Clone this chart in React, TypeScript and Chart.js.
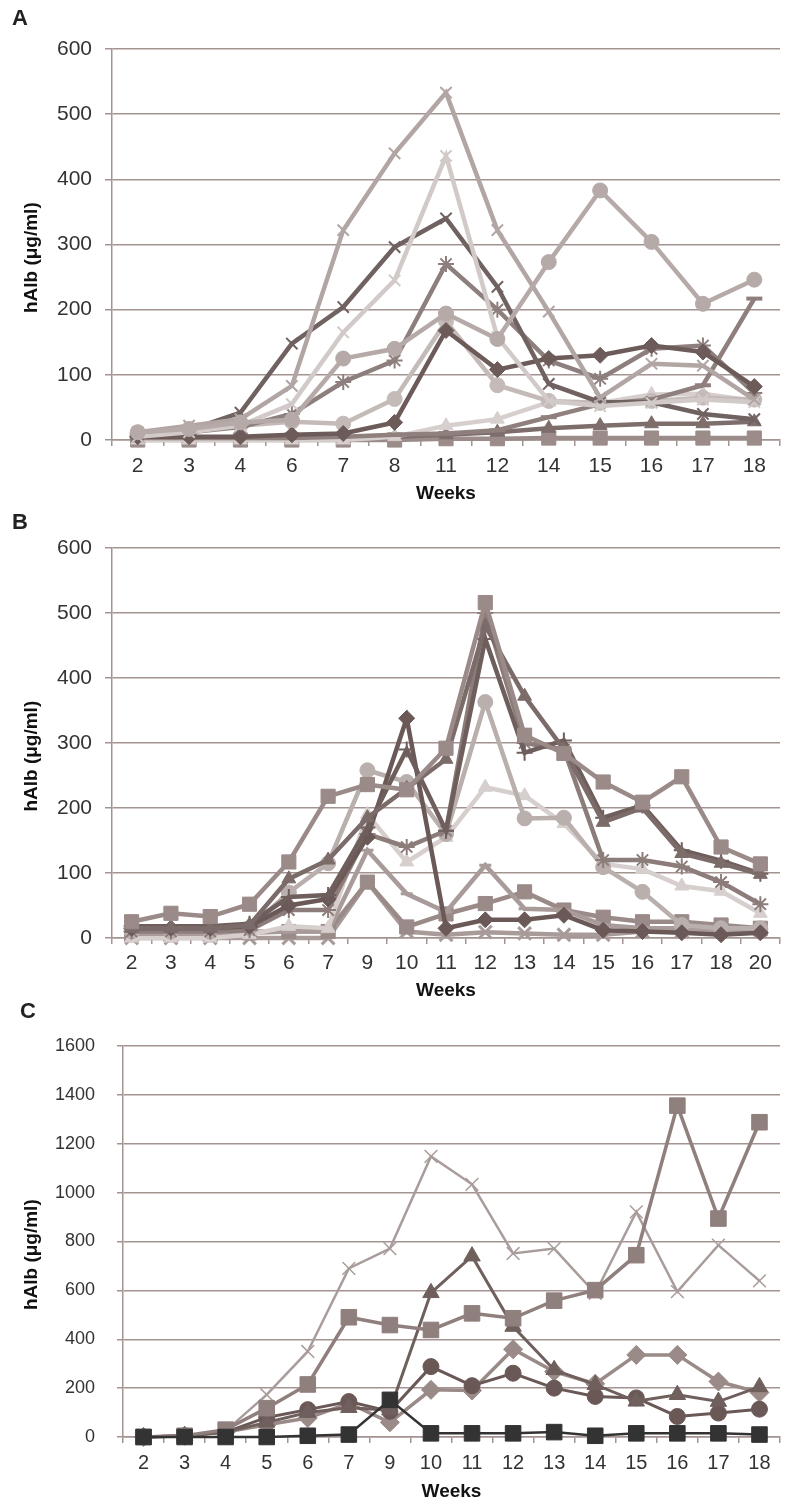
import React, { useEffect, useRef } from 'react';
import { Chart, registerables } from 'chart.js';

Chart.register(...registerables);

// ---------- Panel A ----------
const weeksA = ['2', '3', '4', '6', '7', '8', '11', '12', '14', '15', '16', '17', '18'];
const aS1 = [12, 22, 32, 83, 322, 440, 533, 322, 197, 65, 117, 114, 62];
const aS2 = [5, 12, 22, 55, 165, 245, 436, 158, 60, 52, 57, 62, 58];
const aS3 = [5, 15, 42, 148, 204, 296, 340, 235, 86, 58, 58, 40, 32];
const aS4 = [8, 12, 20, 40, 89, 122, 270, 200, 122, 94, 140, 145, 72];
const aS5 = [12, 17, 27, 31, 125, 140, 194, 155, 273, 383, 304, 209, 246];
const aS6 = [10, 15, 22, 28, 25, 63, 182, 84, 60, 57, 60, 65, 62];
const aS7 = [5, 5, 5, 8, 10, 27, 168, 108, 125, 130, 145, 135, 82];
const aS8 = [0, 0, 0, 0, 0, 5, 22, 32, 58, 57, 70, 71, 60];
const aS9 = [3, 3, 3, 3, 3, 5, 8, 12, 18, 22, 25, 25, 28];
const aS10 = [0, 0, 0, 0, 0, 0, 2, 2, 3, 3, 3, 3, 3];
const aS11 = [3, 3, 3, 3, 5, 8, 10, 15, 35, 55, 62, 84, 217];

// ---------- Panel B ----------
const weeksB = ['2', '3', '4', '5', '6', '7', '9', '10', '11', '12', '13', '14', '15', '16', '17', '18', '20'];
const bS1 = [25, 38, 33, 52, 117, 218, 236, 228, 292, 516, 312, 284, 240, 209, 248, 140, 114];
const bS2 = [15, 15, 15, 18, 50, 60, 155, 338, 15, 28, 28, 35, 12, 10, 8, 5, 8];
const bS3 = [15, 15, 15, 20, 91, 120, 185, 230, 275, 480, 372, 290, 178, 200, 130, 115, 98];
const bS4 = [18, 18, 18, 22, 63, 66, 170, 290, 165, 460, 285, 304, 185, 204, 135, 119, 99];
const bS5 = [10, 10, 10, 15, 70, 115, 258, 240, 160, 363, 184, 185, 109, 71, 20, 15, 15];
const bS6 = [0, 0, 0, 5, 18, 15, 190, 117, 155, 232, 219, 176, 114, 106, 80, 72, 38];
const bS7 = [10, 10, 10, 12, 43, 43, 160, 140, 165, 500, 300, 290, 120, 120, 110, 86, 52];
const bS8 = [8, 8, 8, 10, 10, 10, 135, 68, 40, 112, 45, 43, 20, 15, 15, 10, 10];
const bS9 = [5, 5, 5, 8, 10, 10, 86, 17, 37, 53, 71, 43, 32, 25, 25, 20, 15];
const bS10 = [0, 0, 0, 0, 0, 0, 86, 10, 5, 9, 7, 5, 5, 10, 10, 10, 12];

// ---------- Panel C ----------
const weeksC = ['2', '3', '4', '5', '6', '7', '9', '10', '11', '12', '13', '14', '15', '16', '17', '18'];
const cS1 = [0, 5, 25, 173, 350, 690, 771, 1148, 1034, 751, 771, 588, 921, 595, 785, 639];
const cS2 = [0, 5, 30, 118, 215, 490, 458, 438, 506, 486, 558, 601, 744, 1356, 894, 1288];
const cS3 = [0, 5, 20, 60, 100, 120, 110, 590, 740, 452, 275, 214, 146, 173, 145, 205];
const cS4 = [0, 5, 20, 80, 112, 145, 105, 288, 210, 261, 200, 166, 160, 84, 98, 114];
const cS5 = [0, 5, 20, 50, 78, 138, 60, 193, 190, 359, 268, 218, 336, 336, 227, 182];
const cS6 = [0, 0, 0, 0, 5, 10, 152, 15, 15, 15, 20, 5, 15, 15, 15, 10];

const yTicksA = { max: 600, step: 100 };
const yTicksC = { max: 1600, step: 200 };

const FONT = "'Liberation Sans', Arial, Helvetica, sans-serif";
const GRID = '#a39492';
const TEXT = '#333333';
const Y_TITLE = 'hAlb (μg/ml)';
const Y_TITLE_PAD = '     ';

function series(data: number[], color: string, style: string, opts: any = {}) {
  const { lw = 4.5, r = 7, pbw = 1 } = opts;
  return {
    data,
    borderColor: color,
    backgroundColor: color,
    pointStyle: style,
    pointRadius: r,
    pointHoverRadius: r,
    pointBackgroundColor: color,
    pointBorderColor: color,
    pointBorderWidth: pbw,
    borderWidth: lw,
    tension: 0,
    clip: false,
  };
}

function makeConfig(p: any): any {
  return {
    type: 'line',
    data: { labels: p.labels, datasets: p.datasets },
    options: {
      responsive: false,
      animation: false,
      events: [],
      layout: { padding: { top: p.padTop, right: 0, bottom: 0, left: 0 } },
      plugins: { legend: { display: false }, tooltip: { enabled: false } },
      scales: {
        x: {
          type: 'category',
          offset: true,
          grid: {
            display: true,
            drawOnChartArea: false,
            drawTicks: true,
            tickLength: 6,
            offset: true,
            color: GRID,
            lineWidth: 1.5,
          },
          border: { display: true, color: GRID, width: 1.5 },
          ticks: {
            autoSkip: false,
            maxRotation: 0,
            color: TEXT,
            padding: p.xTickPad,
            font: { family: FONT, size: p.xTickSize },
          },
          title: {
            display: true,
            text: 'Weeks',
            color: '#111111',
            font: { family: FONT, size: 19, weight: 'bold' },
            padding: { top: 0, bottom: p.titlePad },
          },
          afterFit: (s: any) => {
            s.height = p.xH;
          },
        },
        y: {
          min: 0,
          max: p.yMax,
          grid: { color: GRID, lineWidth: 1.5, tickLength: p.yTl, drawTicks: true },
          border: { display: true, color: GRID, width: 1.5 },
          ticks: {
            stepSize: p.yStep,
            color: TEXT,
            padding: p.yTickPad,
            font: { family: FONT, size: p.yTickSize },
            callback: (v: any) => String(v),
          },
          title: {
            display: true,
            text: Y_TITLE + Y_TITLE_PAD,
            color: '#111111',
            font: { family: FONT, size: 19, weight: 'bold' },
            padding: { top: 20.6, bottom: 0 },
          },
          afterFit: (s: any) => {
            s.width = p.yW;
          },
        },
      },
    },
  };
}

const cfgA = () =>
  makeConfig({
    labels: weeksA,
    padTop: 49,
    xH: 70,
    xTickPad: 8,
    xTickSize: 21,
    titlePad: 4.6,
    yMax: yTicksA.max,
    yStep: yTicksA.step,
    yTl: 7,
    yTickPad: 13,
    yTickSize: 21,
    yW: 112,
    datasets: [
      series(aS5, '#b5aaa8', 'circle', { r: 7.5 }),
      series(aS1, '#b1a6a4', 'crossRot', { r: 8, pbw: 2 }),
      series(aS2, '#d2cac8', 'crossRot', { r: 8, pbw: 2 }),
      series(aS3, '#6f6260', 'crossRot', { r: 8, pbw: 2 }),
      series(aS7, '#6c5b59', 'rectRot', { r: 8 }),
      series(aS4, '#8d7f7d', 'star', { r: 8, pbw: 2 }),
      series(aS11, '#8f7f7d', 'line', { r: 8, pbw: 4 }),
      series(aS6, '#c4bbb9', 'circle', { r: 7.5 }),
      series(aS8, '#d6cfcd', 'triangle', { r: 8 }),
      series(aS9, '#7d6d6b', 'triangle', { r: 8 }),
      series(aS10, '#9b8c8a', 'rect', { r: 10 }),
    ],
  });

const cfgB = () =>
  makeConfig({
    labels: weeksB,
    padTop: 38,
    xH: 67,
    xTickPad: 7,
    xTickSize: 21,
    titlePad: 3,
    yMax: yTicksA.max,
    yStep: yTicksA.step,
    yTl: 7,
    yTickPad: 13,
    yTickSize: 21,
    yW: 112,
    datasets: [
      series(bS1, '#9a8a88', 'rect', { r: 10 }),
      series(bS3, '#7b6b69', 'triangle', { r: 8 }),
      series(bS4, '#6e5e5c', 'cross', { r: 8, pbw: 2 }),
      series(bS2, '#6a5957', 'rectRot', { r: 8 }),
      series(bS7, '#8c7c7a', 'star', { r: 8, pbw: 2 }),
      series(bS5, '#b9afad', 'circle', { r: 7.5 }),
      series(bS6, '#d6cfcd', 'triangle', { r: 8 }),
      series(bS8, '#a89b99', 'line', { r: 6, pbw: 3 }),
      series(bS9, '#9a8a88', 'rect', { r: 10 }),
      series(bS10, '#a89b99', 'crossRot', { r: 9, pbw: 3 }),
    ],
  });

const cfgC = () =>
  makeConfig({
    labels: weeksC,
    padTop: 41,
    xH: 68,
    xTickPad: 8,
    xTickSize: 20,
    titlePad: 1.6,
    yMax: yTicksC.max,
    yStep: yTicksC.step,
    yTl: 6,
    yTickPad: 22,
    yTickSize: 18,
    yW: 123,
    datasets: [
      series(cS6, '#333333', 'rect', { r: 11, lw: 2.5 }),
      series(cS2, '#8f7f7d', 'rect', { r: 11, lw: 3.5 }),
      series(cS3, '#6f5f5d', 'triangle', { r: 9.5, lw: 3 }),
      series(cS4, '#6a5856', 'circle', { r: 8, lw: 3 }),
      series(cS5, '#9a8a88', 'rectRot', { r: 9.5, lw: 3.5 }),
      series(cS1, '#a99d9b', 'crossRot', { r: 9, lw: 2.5, pbw: 1.5 }),
    ],
  });

function Panel({ top, height, config }: { top: number; height: number; config: () => any }) {
  const ref = useRef<HTMLCanvasElement>(null);
  useEffect(() => {
    const chart = new Chart(ref.current as HTMLCanvasElement, config());
    return () => chart.destroy();
  }, []);
  return (
    <div style={{ position: 'absolute', left: 0, top, width: 792, height }}>
      <canvas ref={ref} width={792} height={height} style={{ display: 'block', width: 792, height }} />
    </div>
  );
}

function Letter({ text, x, y }: { text: string; x: number; y: number }) {
  return (
    <div
      style={{
        position: 'absolute',
        left: x,
        top: y,
        fontFamily: FONT,
        fontWeight: 'bold',
        fontSize: 22,
        lineHeight: '22px',
        color: '#222222',
      }}
    >
      {text}
    </div>
  );
}

export default function App() {
  return (
    <div style={{ position: 'absolute', left: 0, top: 0, width: 792, height: 1505, background: '#ffffff', overflow: 'hidden' }}>
      <Panel top={0} height={510} config={cfgA} />
      <Panel top={510} height={495} config={cfgB} />
      <Panel top={1005} height={500} config={cfgC} />
      <Letter text="A" x={12} y={7} />
      <Letter text="B" x={12} y={511} />
      <Letter text="C" x={20} y={1000} />
    </div>
  );
}
